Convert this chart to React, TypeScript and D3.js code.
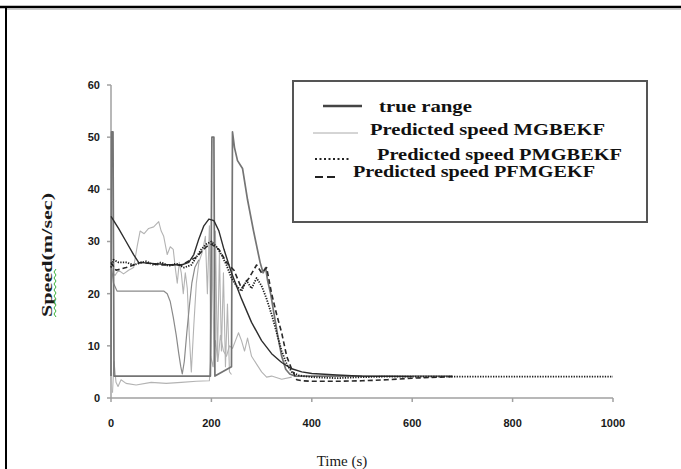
import React from 'react';
import * as d3 from 'd3';

// time (s) / speed (m/sec)
const trueT = [0, 1, 4, 6, 198, 201, 205, 207, 240, 242, 246, 252, 262, 272, 284, 297, 303, 308, 312, 318, 325, 332, 340, 348, 356, 366, 680];
const trueV = [4.2, 51, 51, 4.2, 4.2, 50, 50, 4.2, 6, 51, 48, 45.5, 44, 38, 32, 26, 24, 25, 22.5, 20, 16, 12, 8, 5.5, 4.6, 4.2, 4.2];

const mgbUpT = [0, 8, 15, 25, 35, 45, 52, 58, 66, 75, 85, 95, 100, 105, 112, 118, 124, 128, 132, 136, 140, 144, 148, 152, 156, 160, 165, 170, 175, 182, 188, 192, 196, 199, 202, 205, 208, 212, 216, 220, 224, 228, 232, 236, 240];
const mgbUpV = [24, 23.5, 24.5, 23.8, 24.5, 25, 29, 32, 31.5, 32.5, 32.8, 33.8, 32, 31, 27.5, 29, 28.5, 25, 22, 26, 24, 20, 24, 21, 12, 5, 14, 22, 26, 28, 31, 20, 33, 8, 30, 6, 32, 7, 28, 9, 24, 6, 18, 5, 4.5];

const mgbLowT = [3, 6, 10, 14, 20, 30, 50, 80, 110, 140, 170, 196, 199, 203, 208, 213, 218, 224, 230, 236, 242, 248, 254, 260, 266, 272, 280, 290, 300, 310, 320, 340, 360];
const mgbLowV = [1, 7, 3, 2.2, 3.5, 2.8, 2.5, 3, 2.8, 3, 3.2, 3.3, 8, 6, 11, 7, 12, 9, 8, 10, 9.5, 11, 12.5, 11, 9, 11.5, 8, 6.5, 5, 4, 4.2, 3.6, 4];

const pmgT = [0, 5, 15, 30, 45, 55, 70, 85, 100, 115, 130, 145, 160, 170, 180, 190, 200, 210, 220, 230, 240, 250, 260, 270, 280, 290, 300, 310, 320, 330, 340, 350, 360, 375, 400, 450, 500, 550, 600, 700, 800, 900, 1000];
const pmgV = [25, 26.5, 26, 26, 25.5, 25.8, 26.2, 25.5, 26, 25.3, 25.8, 25, 25.5, 27, 28.5, 29.5, 30, 29, 27.5, 25.5, 23, 21.5, 20.5, 22.5, 21, 23, 21.5, 19, 16, 12.5, 9, 6.5, 5, 4.3, 4, 3.8, 4, 4.1, 4.1, 4.1, 4.1, 4.1, 4.1];

const pfmT = [0, 10, 30, 60, 100, 140, 170, 190, 200, 215, 230, 245, 260, 275, 290, 300, 310, 320, 330, 340, 350, 360, 370, 380, 400, 450, 500, 550, 600, 680];
const pfmV = [26, 24.5, 25, 26, 25.5, 25.5, 27, 29, 29.5, 28.5, 26, 24.5, 21, 23, 25.5, 24, 25, 20, 16, 12.5, 8, 5.5, 3.5, 3.3, 3.2, 3.2, 3.3, 3.5, 3.8, 4.1];

// unlabelled curves that are also in the plot
const smoothT = [0, 15, 30, 45, 55, 80, 110, 140, 155, 165, 175, 185, 195, 205, 215, 225, 240, 260, 280, 300, 320, 340, 360, 380, 400, 450, 500, 600];
const smoothV = [34.8, 32.5, 30, 27.5, 26, 25.8, 25.6, 25.5, 26, 27.5, 30.5, 33, 34.3, 34, 32, 28.5, 24, 19, 14.5, 11, 8.5, 6.8, 5.6, 5, 4.7, 4.4, 4.2, 4.1];

const dipT = [0, 5, 12, 40, 80, 105, 112, 118, 124, 130, 135, 139, 142, 146, 151, 156, 161, 167, 175];
const dipV = [26, 22, 20.5, 20.5, 20.5, 20.5, 20, 18.5, 15.5, 12, 8.5, 6, 4.6, 7, 12.5, 17.5, 22, 25, 26.5];

const xTicks = [0, 200, 400, 600, 800, 1000];
const yTicks = [0, 10, 20, 30, 40, 50, 60];

const legendLabels = ['true range', 'Predicted speed MGBEKF', 'Predicted speed PMGBEKF', 'Predicted speed PFMGEKF'];

const W = 681;
const H = 469;

export default function App() {
  const x = d3.scaleLinear().domain([0, 1000]).range([111, 613]);
  const y = d3.scaleLinear().domain([0, 60]).range([398, 85]);

  const line = (ts: number[], vs: number[]) =>
    d3.line<number>().x((d, i) => x(ts[i])).y(d => y(d))(vs) || '';

  const series = [
    {d: line(mgbUpT, mgbUpV), stroke: '#b3b3b3', w: 1.1, dash: ''},
    {d: line(mgbLowT, mgbLowV), stroke: '#b3b3b3', w: 1.1, dash: ''},
    {d: line(dipT, dipV), stroke: '#8a8a8a', w: 1.2, dash: ''},
    {d: line(trueT, trueV), stroke: '#747474', w: 1.7, dash: ''},
    {d: line(smoothT, smoothV), stroke: '#2e2e2e', w: 1.4, dash: ''},
    {d: line(pfmT, pfmV), stroke: '#2a2a2a', w: 1.6, dash: '5 3'},
    {d: line(pmgT, pmgV), stroke: '#1e1e1e', w: 1.8, dash: '1.3 1.3'},
  ];

  const legendRows = [
    {x1: 323, x2: 362, y: 106, stroke: '#444', w: 2.6, dash: '', tx: 379, ty: 112, len: 93},
    {x1: 313, x2: 358, y: 133, stroke: '#aaa', w: 1, dash: '', tx: 370, ty: 135, len: 235},
    {x1: 315, x2: 350, y: 159, stroke: '#222', w: 2, dash: '2 2.5', tx: 377, ty: 160, len: 245},
    {x1: 315, x2: 338, y: 177, stroke: '#222', w: 2, dash: '8 4', tx: 353, ty: 177, len: 242},
  ];

  return (
    <svg width={W} height={H} style={{position: 'absolute', left: 0, top: 0, background: '#fff'}}>
      <rect width={W} height={H} fill="#fff" />
      {/* frame */}
      <line x1={0} x2={W} y1={7} y2={7} stroke="#000" strokeWidth={2.5} />
      <line x1={7} x2={W} y1={9.5} y2={9.5} stroke="#ccc" strokeWidth={1} />
      <line x1={6} x2={6} y1={6} y2={H} stroke="#000" strokeWidth={2} />

      {/* axes */}
      <g stroke="#a0a0a0" strokeWidth={1.5}>
        <line x1={x(0)} x2={x(0)} y1={y(0)} y2={y(60)} />
        <line x1={x(0)} x2={x(1000)} y1={y(0)} y2={y(0)} />
        {yTicks.map(t => <line key={'yt' + t} x1={x(0) - 4} x2={x(0)} y1={y(t)} y2={y(t)} />)}
        {xTicks.map(t => <line key={'xt' + t} x1={x(t)} x2={x(t)} y1={y(0)} y2={y(0) + 4} />)}
      </g>
      <g fontFamily="'Liberation Sans', Arial, sans-serif" fontWeight="bold" fontSize={11} fill="#1a1a1a">
        {yTicks.map(t => (
          <text key={'yl' + t} x={x(0) - 11} y={y(t)} dy="0.35em" textAnchor="end">{t}</text>
        ))}
        {xTicks.map(t => (
          <text key={'xl' + t} x={x(t)} y={y(0) + 25} dy="0.35em" textAnchor="middle">{t}</text>
        ))}
      </g>

      {/* data */}
      <g fill="none" strokeLinejoin="round">
        {series.map((s, i) => (
          <path key={i} d={s.d} stroke={s.stroke} strokeWidth={s.w} strokeDasharray={s.dash || undefined} />
        ))}
      </g>

      {/* titles */}
      <text x={342} y={466} textAnchor="middle" fontFamily="'Liberation Serif', serif" fontSize={15} fill="#1a1a1a">Time (s)</text>
      <g transform="translate(52,255) rotate(-90)">
        <text x={0} y={0} textAnchor="middle" fontFamily="'Liberation Serif', serif" fontWeight="bold" fontSize={15} fill="#1a1a1a" textLength={124} lengthAdjust="spacingAndGlyphs">Speed(m/sec)</text>
        <path d="M-62,4 l3,-2 l3,2 l3,-2 l3,2 l3,-2 l3,2 l3,-2 l3,2 l3,-2 l3,2 l3,-2 l3,2 l3,-2 l3,2 l3,-2 l3,2" fill="none" stroke="#3bb33b" strokeWidth={1} />
      </g>

      {/* legend */}
      <rect x={293} y={81} width={354} height={141} fill="#fff" stroke="#555" strokeWidth={2} />
      {legendRows.map((r, i) => (
        <g key={'lg' + i}>
          <line x1={r.x1} x2={r.x2} y1={r.y} y2={r.y} stroke={r.stroke} strokeWidth={r.w} strokeDasharray={r.dash || undefined} />
          <text x={r.tx} y={r.ty} fontFamily="'Liberation Serif', serif" fontWeight="bold" fontSize={17} fill="#111" textLength={r.len} lengthAdjust="spacingAndGlyphs">{legendLabels[i]}</text>
        </g>
      ))}
    </svg>
  );
}
